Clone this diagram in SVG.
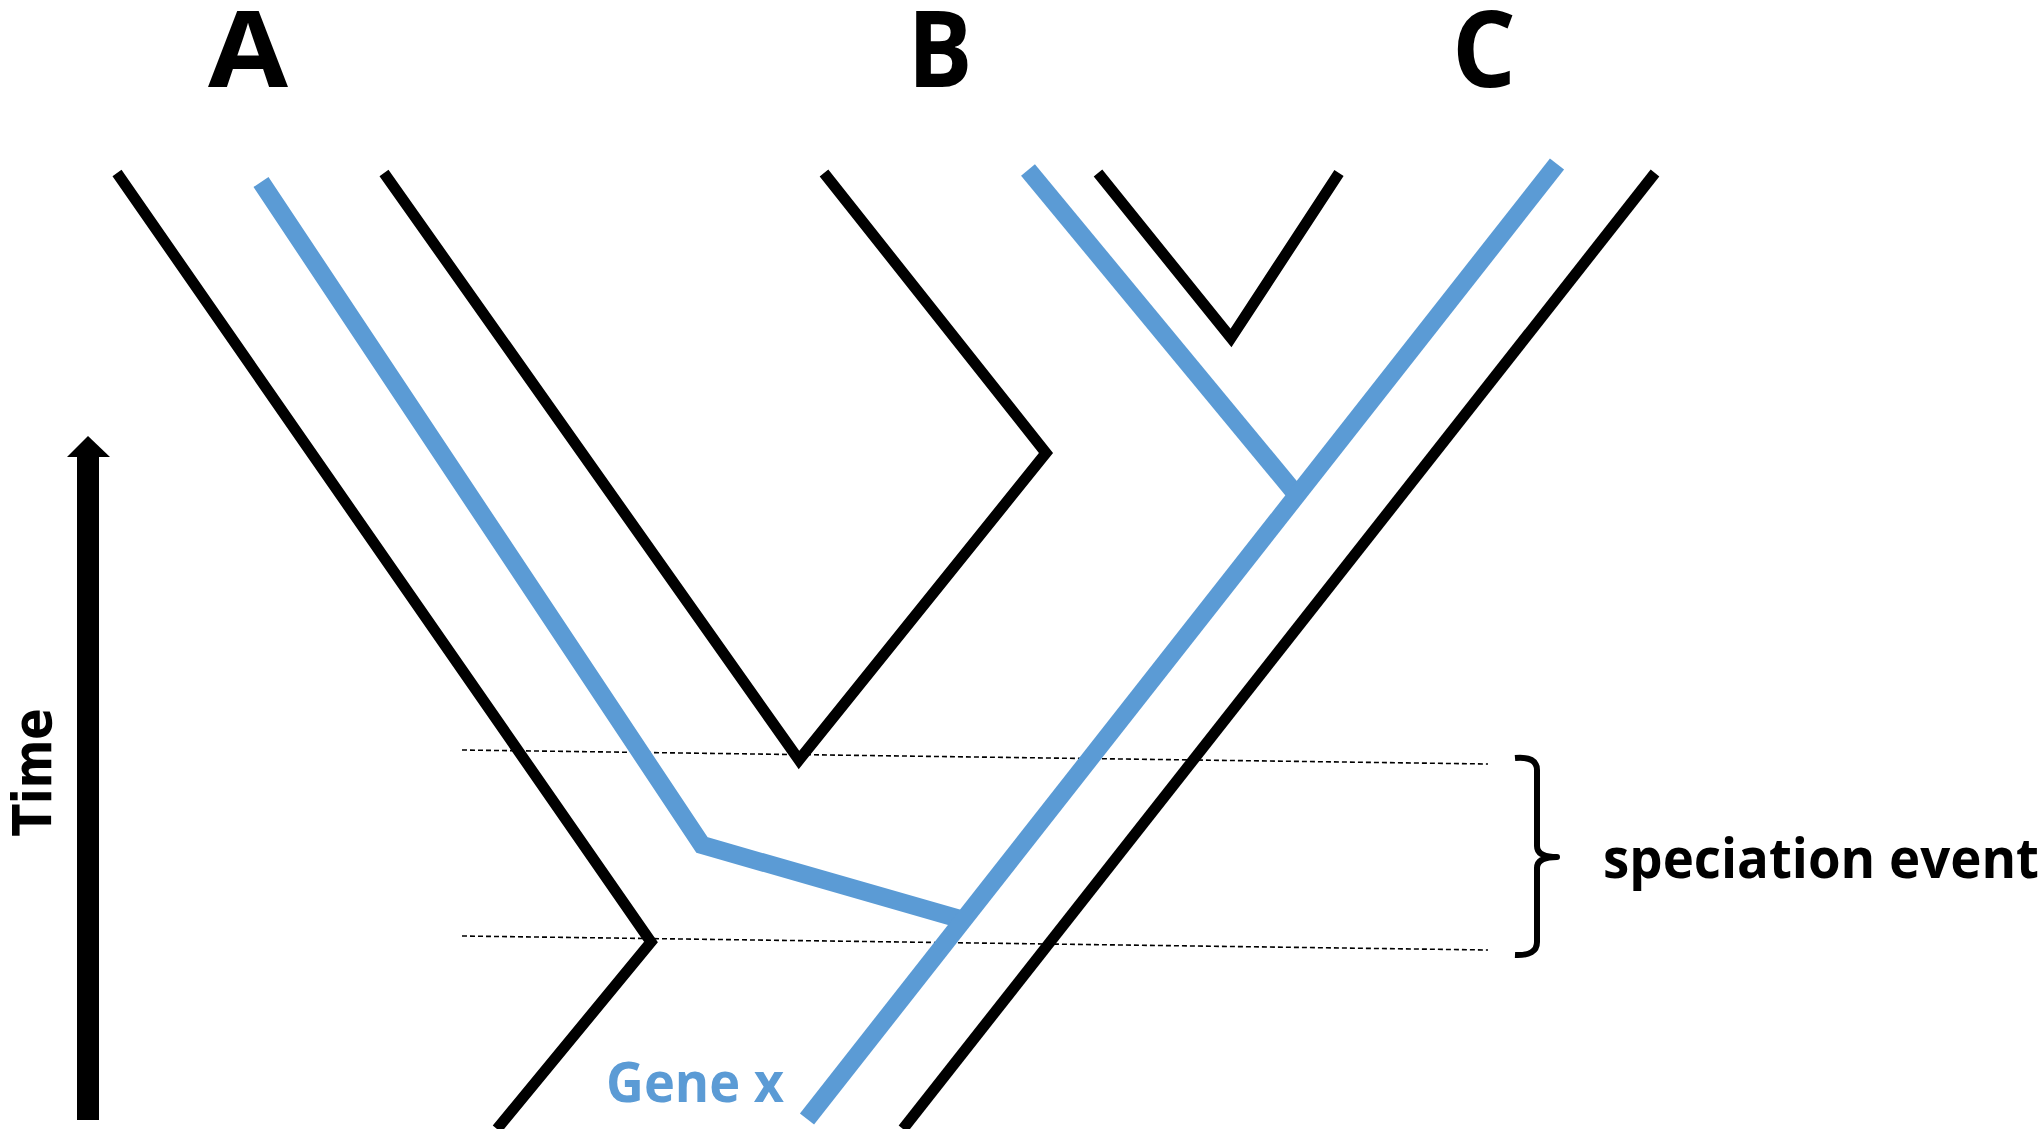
<svg xmlns="http://www.w3.org/2000/svg" width="2041" height="1129" viewBox="0 0 2041 1129">
  <style>
    .species { fill: none; stroke: #000; stroke-width: 11; stroke-linejoin: miter; stroke-linecap: butt; }
    .gene { fill: none; stroke: #5B9BD5; stroke-width: 18; stroke-linejoin: miter; stroke-linecap: butt; }
    .guide { fill: none; stroke: #000; stroke-width: 1.6; stroke-dasharray: 5 3; }
    .brace { fill: none; stroke: #000; stroke-width: 6; stroke-linejoin: round; }
    .taxon { font-family: "Open Sans", "Liberation Sans", sans-serif; font-weight: 700; font-size: 106px; fill: #000; }
    .note { font-family: "Open Sans", "Liberation Sans", sans-serif; font-weight: 700; font-size: 56px; fill: #000; }
    .axis { font-family: "DejaVu Sans", "Liberation Sans", sans-serif; font-weight: 700; font-size: 54px; fill: #000; }
  </style>

  <rect width="2041" height="1129" fill="#fff"/>

  <!-- taxon labels -->
  <g id="taxa">
    <text class="taxon" x="248" y="87" text-anchor="middle" textLength="80" lengthAdjust="spacingAndGlyphs">A</text>
    <text class="taxon" x="940" y="87" text-anchor="middle" textLength="65" lengthAdjust="spacingAndGlyphs">B</text>
    <text class="taxon" x="1484" y="87" text-anchor="middle" textLength="64" lengthAdjust="spacingAndGlyphs">C</text>
  </g>

  <!-- species tree outlines -->
  <g id="species-tree">
    <polyline class="species" points="117,173 651,942 497,1129"/>
    <polyline class="species" points="384,173 799,760 1046,453 824,173"/>
    <polyline class="species" points="1098,173 1231,338 1339,173"/>
    <polyline class="species" points="1655,173 903,1129"/>
  </g>

  <!-- speciation window guides -->
  <g id="guides">
    <line class="guide" x1="462" y1="750" x2="1488" y2="764"/>
    <line class="guide" x1="462" y1="936" x2="1488" y2="950"/>
  </g>

  <!-- gene tree -->
  <g id="gene-tree">
    <polyline class="gene" points="261,182 702,845 960,919"/>
    <polyline class="gene" points="1028,170 1300,499"/>
    <polyline class="gene" points="1557,164 807,1119"/>
    <text class="note" x="606" y="1102" style="fill:#5B9BD5" textLength="178" lengthAdjust="spacingAndGlyphs">Gene x</text>
  </g>

  <!-- time axis -->
  <g id="time-axis">
    <rect x="77" y="455" width="22" height="665" fill="#000"/>
    <polygon points="67,457 88,436 110,457" fill="#000"/>
    <text class="axis" transform="translate(51,772) rotate(-90)" text-anchor="middle" textLength="128" lengthAdjust="spacingAndGlyphs">Time</text>
  </g>

  <!-- speciation event bracket -->
  <g id="speciation-event">
    <path class="brace" d="M1515,758 Q1537,756 1537,770 L1537,846 Q1537,857 1557,857 Q1537,857 1537,868 L1537,942 Q1537,956 1515,955"/>
    <text class="note" x="1603" y="878" textLength="436" lengthAdjust="spacingAndGlyphs">speciation event</text>
  </g>
</svg>
